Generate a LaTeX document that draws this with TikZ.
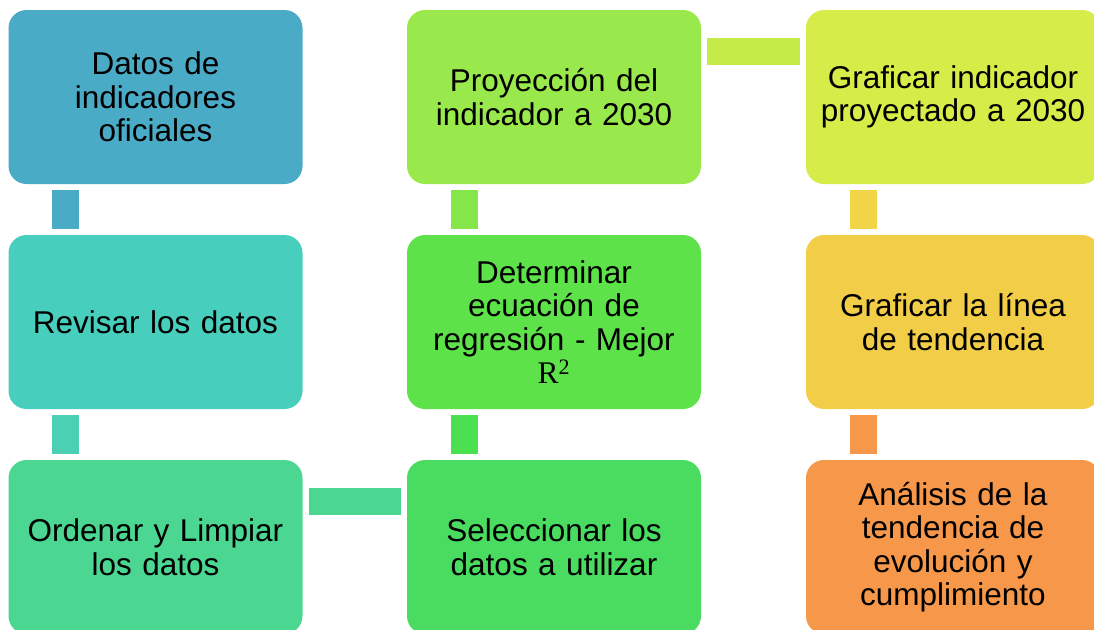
\documentclass[tikz,border=0pt]{standalone}
\usepackage{fontspec}
\setmainfont{Liberation Sans}
\newfontfamily\serifR{Liberation Serif}
\usepackage{tikz}
\usetikzlibrary{calc}
\definecolor{azulA}{HTML}{4AABC7}
\definecolor{turqA}{HTML}{48CEBC}
\definecolor{turqB}{HTML}{4CD0B4}
\definecolor{verdeA}{HTML}{4BD691}
\definecolor{verdeB}{HTML}{4ADC60}
\definecolor{verdeC}{HTML}{4AE050}
\definecolor{verdeD}{HTML}{5DE24A}
\definecolor{verdeE}{HTML}{84E648}
\definecolor{verdeF}{HTML}{9AE94C}
\definecolor{limaA}{HTML}{C4EB48}
\definecolor{limaB}{HTML}{D6EC48}
\definecolor{amarA}{HTML}{F2D448}
\definecolor{amarB}{HTML}{F2CE48}
\definecolor{naraA}{HTML}{F6974A}
\begin{document}
\begin{tikzpicture}[x=1pt, y=-1pt,
	paso/.style={rectangle, rounded corners=18pt, inner sep=0pt,
		minimum width=294pt, minimum height=174pt, text width=286pt,
		align=center, font=\fontsize{31.5}{33.5}\selectfont}]

	\useasboundingbox (0,0) rectangle (1094,629);

	% column 1
	\node[paso, fill=azulA] (datos) at (155.5,97) {Datos de\\indicadores\\oficiales};
	\node[paso, fill=turqA] (revisar) at (155.5,322) {Revisar los datos};
	\node[paso, fill=verdeA] (ordenar) at (155.5,547) {Ordenar y Limpiar\\los datos};

	% column 2
	\node[paso, fill=verdeB] (seleccionar) at (554,547) {Seleccionar los\\datos a utilizar};
	\node[paso, fill=verdeD] (regresion) at (554,322) {Determinar\\ecuación de\\regresión - Mejor\\{\serifR R\textsuperscript{2}}};
	\node[paso, fill=verdeF] (proyeccion) at (554,97) {Proyección del\\indicador a 2030};

	% column 3
	\node[paso, fill=limaB] (graficarind) at (953,97) {Graficar indicador\\proyectado a 2030};
	\node[paso, fill=amarB] (tendencia) at (953,322) {Graficar la línea\\de tendencia};
	\node[paso, fill=naraA] (analisis) at (953,547) {Análisis de la\\tendencia de\\evolución y\\cumplimiento};

	% connectors
	\fill[azulA] ($ (datos.south west)+(44,6) $) rectangle ($ (revisar.north west)+(71,-6) $);
	\fill[turqB] ($ (revisar.south west)+(44,6) $) rectangle ($ (ordenar.north west)+(71,-6) $);
	\fill[verdeA] ($ (ordenar.north east)+(6,28) $) rectangle ($ (seleccionar.north west)+(-6,55) $);
	\fill[verdeC] ($ (seleccionar.north west)+(44,-6) $) rectangle ($ (regresion.south west)+(71,6) $);
	\fill[verdeE] ($ (regresion.north west)+(44,-6) $) rectangle ($ (proyeccion.south west)+(71,6) $);
	\fill[limaA] ($ (proyeccion.north east)+(6,28) $) rectangle ($ (graficarind.north west)+(-6,55) $);
	\fill[amarA] ($ (graficarind.south west)+(44,6) $) rectangle ($ (tendencia.north west)+(71,-6) $);
	\fill[naraA] ($ (tendencia.south west)+(44,6) $) rectangle ($ (analisis.north west)+(71,-6) $);

\end{tikzpicture}
\end{document}
